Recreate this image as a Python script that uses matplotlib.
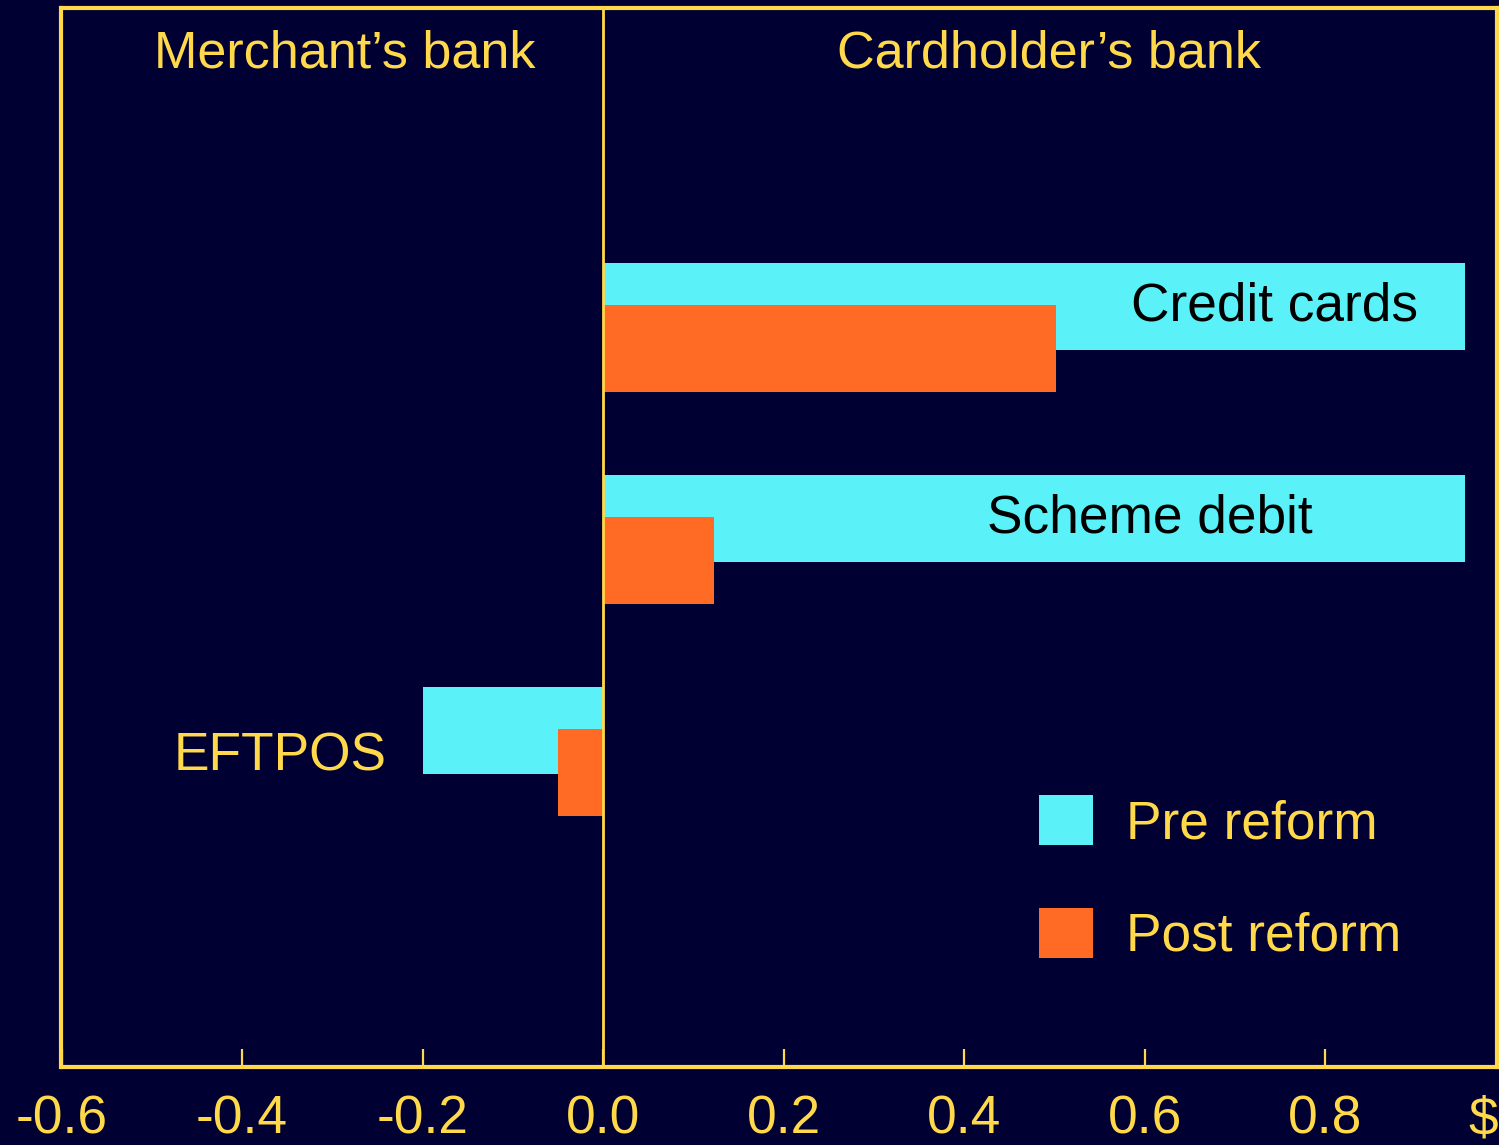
import matplotlib
matplotlib.use("Agg")
from matplotlib import pyplot as plt
import numpy as np

# data (dollars)
categories = ["Credit cards", "Scheme debit", "EFTPOS"]
pre_reform = [0.955, 0.955, -0.2]
post_reform = [0.502, 0.123, -0.05]
tick_values = [-0.6, -0.4, -0.2, 0.0, 0.2, 0.4, 0.6, 0.8]
tick_labels = ["-0.6", "-0.4", "-0.2", "0.0", "0.2", "0.4", "0.6", "0.8"]

bg = "#000033"
yellow = "#FFD94A"
cyan = "#5AF1F9"
orange = "#FF6A25"

plt.rcParams["font.family"] = ["Liberation Sans", "DejaVu Sans"]
fs = 38.3

fig = plt.figure(figsize=(14.99, 11.45), dpi=100, facecolor=bg)
ax = fig.add_axes([61.5 / 1499, 1 - 1067 / 1145, (1497 - 61.5) / 1499, (1067 - 8) / 1145])
ax.set_facecolor(bg)

# credit cards on top, eftpos at the bottom
ypos = np.array([2, 1, 0])
h = 0.41
off = 0.099
ax.barh(ypos + off, pre_reform, height=h, color=cyan, label="Pre reform", zorder=2)
ax.barh(ypos - off, post_reform, height=h, color=orange, label="Post reform", zorder=2)

ax.set_xlim(-0.6, 0.99)
ax.set_ylim(-1.486, 3.509)

# zero line sits on top of the bars
ax.axvline(0, color=yellow, lw=2, zorder=3)

# frame and ticks
for sp in ax.spines.values():
    sp.set_color(yellow)
    sp.set_linewidth(3)
ax.set_yticks([])
ax.set_xticks(tick_values)
ax.set_xticklabels(tick_labels)
ax.tick_params(axis="x", direction="in", length=13, width=1.6, color=yellow,
               labelcolor=yellow, labelsize=fs, pad=20)

# unit label at the right end of the axis
fig.text(1483 / 1499, 1 - 1120 / 1145, "$", color=yellow, fontsize=fs,
         ha="center", va="center")

# bar labels
ax.text(0.903, 2 + off, categories[0], color="black", fontsize=fs, ha="right", va="center", zorder=4)
ax.text(0.786, 1 + off, categories[1], color="black", fontsize=fs, ha="right", va="center", zorder=4)
ax.text(-0.24, -0.02, categories[2], color=yellow, fontsize=fs, ha="right", va="center", zorder=4)

# side headings
ax.text(-0.286, 3.29, "Merchant\u2019s bank", color=yellow, fontsize=37.5, ha="center", va="center")
ax.text(0.494, 3.29, "Cardholder\u2019s bank", color=yellow, fontsize=37.5, ha="center", va="center")

leg = ax.legend(loc="upper left", bbox_to_anchor=(1039 / 1499, 1 - 795 / 1145),
                bbox_transform=fig.transFigure, frameon=False, fontsize=fs,
                handlelength=1.01, handleheight=1.07, labelspacing=1.1,
                handletextpad=0.63, borderpad=0, borderaxespad=0)
for t in leg.get_texts():
    t.set_color(yellow)

fig.savefig("out.png", dpi=100, facecolor=bg)
